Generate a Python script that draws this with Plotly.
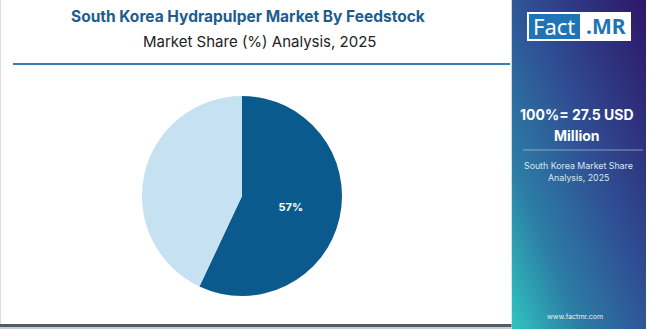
import base64
import plotly.graph_objects as go

W, H = 650, 329

segments = ["Recycled Paper", "Virgin Pulp"]
shares = [57, 43]
slice_text = ["57%", ""]
slice_colors = ["#0b5a8e", "#c6e1f1"]

title = "South Korea Hydrapulper Market By Feedstock"
subtitle = "Market Share (%) Analysis, 2025"
panel_value_lines = ["100%= 27.5 USD", "Million"]
panel_sub_lines = ["South Korea Market Share", "Analysis, 2025"]
website = "www.factmr.com"

def px(x):
    return x / W

def py(y):
    return 1 - y / H

fig = go.Figure()
fig.add_trace(go.Pie(
    labels=segments, values=shares, text=slice_text, textinfo="text",
    sort=False, direction="clockwise", rotation=0,
    marker=dict(colors=slice_colors, line=dict(width=0)),
    textposition="inside", insidetextorientation="horizontal",
    textfont=dict(family="Inter", size=11, color="white", weight="bold"),
    domain=dict(x=[px(142), px(342)], y=[py(296), py(96)]),
    showlegend=False, hoverinfo="label+percent",
))

svg = (
    '<svg xmlns="http://www.w3.org/2000/svg" width="135" height="329" viewBox="0 0 135 329" preserveAspectRatio="none">'
    '<defs><linearGradient id="g" x1="1" y1="0" x2="0" y2="1">'
    '<stop offset="0" stop-color="#2e1668"/>'
    '<stop offset="0.45" stop-color="#2f4f94"/>'
    '<stop offset="0.75" stop-color="#2c7ea6"/>'
    '<stop offset="1" stop-color="#2fc6bf"/>'
    '</linearGradient></defs>'
    '<rect width="135" height="329" fill="url(#g)"/></svg>'
)
uri = "data:image/svg+xml;base64," + base64.b64encode(svg.encode()).decode()


def ann(text, x, y, size, color, family="Inter", weight="normal"):
    return dict(text=text, x=px(x), y=py(y), xref="paper", yref="paper", showarrow=False,
                xanchor="center", yanchor="middle", align="center",
                font=dict(family=family, size=size, color=color, weight=weight))


fig.update_layout(
    width=W, height=H,
    margin=dict(l=0, r=0, t=0, b=0),
    paper_bgcolor="white", plot_bgcolor="white",
    images=[dict(source=uri, xref="paper", yref="paper",
                 x=px(511.5), y=1, sizex=px(134.5), sizey=1,
                 xanchor="left", yanchor="top", sizing="stretch", layer="below")],
    shapes=[
        dict(type="line", xref="paper", yref="paper", x0=px(13), x1=px(510), y0=py(64), y1=py(64),
             line=dict(color="#2f7db3", width=2)),
        dict(type="rect", xref="paper", yref="paper", x0=0, x1=px(511.5), y0=py(327), y1=py(324),
             line=dict(width=0), fillcolor="#4f5d68"),
        dict(type="rect", xref="paper", yref="paper", x0=0, x1=px(511.5), y0=0, y1=py(327),
             line=dict(width=0), fillcolor="#c9cdd1"),
        dict(type="line", xref="paper", yref="paper", x0=px(0.5), x1=px(0.5), y0=py(324), y1=1,
             line=dict(color="#dcdcdc", width=1)),
        # logo
        dict(type="rect", xref="paper", yref="paper", x0=px(527), x1=px(631), y0=py(41), y1=py(12),
             line=dict(width=0), fillcolor="white"),
        dict(type="rect", xref="paper", yref="paper", x0=px(529), x1=px(580), y0=py(39), y1=py(14),
             line=dict(width=0), fillcolor="#1f73b7"),
        # panel divider
        dict(type="line", xref="paper", yref="paper", x0=px(523), x1=px(643), y0=py(150), y1=py(150),
             line=dict(color="rgba(255,255,255,0.45)", width=1)),
    ],
    annotations=[
        ann(title, 248, 16, 15.5, "#1d5d8e", weight="bold"),
        ann(subtitle, 259, 41, 15, "#222222"),
        ann("Fact", 554, 26, 22, "white", family="Noto Sans"),
        ann(".MR", 606, 26, 21, "#1f73b7", family="Noto Sans", weight="bold"),
        ann(panel_value_lines[0], 577, 114, 14, "white", weight="bold"),
        ann(panel_value_lines[1], 577, 135, 14, "white", weight="bold"),
        ann(panel_sub_lines[0], 578, 165, 8.8, "#dde6f2"),
        ann(panel_sub_lines[1], 578, 177, 8.8, "#dde6f2"),
        ann(website, 575, 316, 7, "#e6eef5"),
    ],
)

fig.write_html("out.html")
